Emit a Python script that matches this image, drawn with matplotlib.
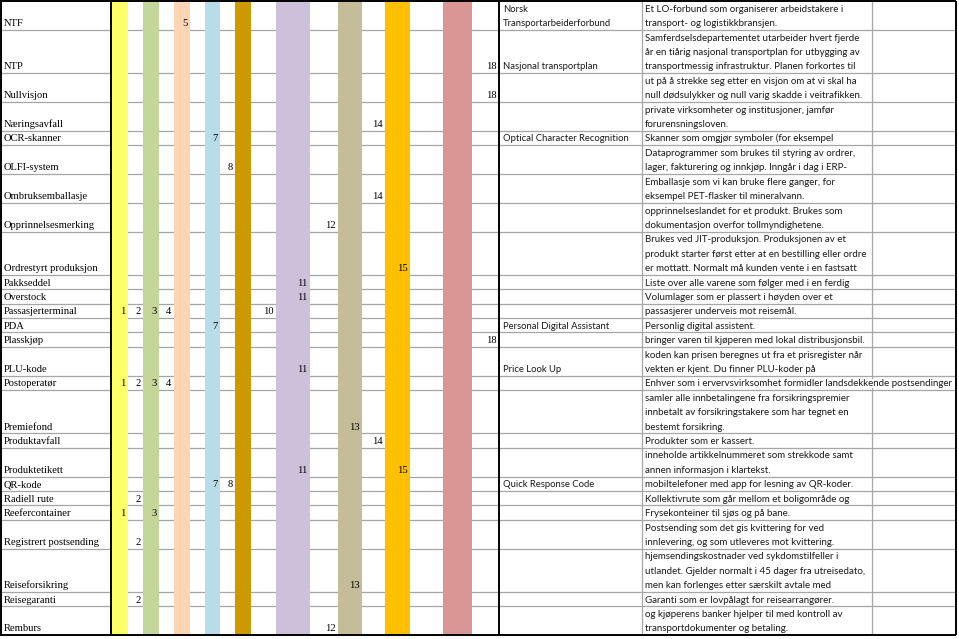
import matplotlib
matplotlib.use("Agg")
import matplotlib.pyplot as plt
import numpy as np

# ── Data ─────────────────────────────────────────────────────────────────────
TERMS = [
    "NTF", "NTP", "Nullvisjon", "Næringsavfall", "OCR-skanner", "OLFI-system",
    "Ombruksemballasje", "Opprinnelsesmerking", "Ordrestyrt produksjon",
    "Pakkseddel", "Overstock", "Passasjerterminal", "PDA", "Plasskjøp",
    "PLU-kode", "Postoperatør", "Premiefond", "Produktavfall", "Produktetikett",
    "QR-kode", "Radiell rute", "Reefercontainer", "Registrert postsending",
    "Reiseforsikring", "Reisegaranti", "Remburs",
]

# numbers shown in the numbered columns (column index == number)
CHAPTERS = [
    [5], [18], [18], [14], [7], [8], [14], [12], [15], [11], [11],
    [1, 2, 3, 4, 10], [7], [18], [11], [1, 2, 3, 4], [13], [14], [11, 15],
    [7, 8], [2], [1, 3], [2], [13], [2], [12],
]

EXPANSIONS = [
    "Norsk\nTransportarbeiderforbund", "Nasjonal transportplan", "", "",
    "Optical Character Recognition", "", "", "", "", "", "", "",
    "Personal Digital Assistant", "", "Price Look Up", "", "", "", "",
    "Quick Response Code", "", "", "", "", "", "",
]

DESCRIPTIONS = [
    "Et LO-forbund som organiserer arbeidstakere i\ntransport- og logistikkbransjen.",
    "Samferdselsdepartementet utarbeider hvert fjerde\når en tiårig nasjonal transportplan for utbygging av\ntransportmessig infrastruktur. Planen forkortes til",
    "ut på å strekke seg etter en visjon om at vi skal ha\nnull dødsulykker og null varig skadde i veitrafikken.",
    "private virksomheter og institusjoner, jamfør\nforurensningsloven.",
    "Skanner som omgjør symboler (for eksempel",
    "Dataprogrammer som brukes til styring av ordrer,\nlager, fakturering og innkjøp. Inngår i dag i ERP-",
    "Emballasje som vi kan bruke flere ganger, for\neksempel PET-flasker til mineralvann.",
    "opprinnelseslandet for et produkt. Brukes som\ndokumentasjon overfor tollmyndighetene.",
    "Brukes ved JIT-produksjon. Produksjonen av et\nprodukt starter først etter at en bestilling eller ordre\ner mottatt. Normalt må kunden vente i en fastsatt",
    "Liste over alle varene som følger med i en ferdig",
    "Volumlager som er plassert i høyden over et",
    "passasjerer underveis mot reisemål.",
    "Personlig digital assistent.",
    "bringer varen til kjøperen med lokal distribusjonsbil.",
    "koden kan prisen beregnes ut fra et prisregister når\nvekten er kjent. Du finner PLU-koder på",
    "Enhver som i ervervsvirksomhet formidler landsdekkende postsendinger",
    "samler alle innbetalingene fra forsikringspremier\ninnbetalt av forsikringstakere som har tegnet en\nbestemt forsikring.",
    "Produkter som er kassert.",
    "inneholde artikkelnummeret som strekkode samt\nannen informasjon i klartekst.",
    "mobiltelefoner med app for lesning av QR-koder.",
    "Kollektivrute som går mellom et boligområde og",
    "Frysekonteiner til sjøs og på bane.",
    "Postsending som det gis kvittering for ved\ninnlevering, og som utleveres mot kvittering.",
    "hjemsendingskostnader ved sykdomstilfeller i\nutlandet. Gjelder normalt i 45 dager fra utreisedato,\nmen kan forlenges etter særskilt avtale med",
    "Garanti som er lovpålagt for reisearrangører.",
    "og kjøperens banker hjelper til med kontroll av\ntransportdokumenter og betaling.",
]

# fill colours of the odd numbered columns 1, 3, ..., 17
STRIPE_COLORS = ["#FFFF66", "#C4D79B", "#FCD5B4", "#B7DEE8", "#CC9900",
                 "#CCC0DA", "#C4BD97", "#FFC000", "#DA9694"]

# ── Layout (pixel columns of the sheet) ──────────────────────────────────────
W, H = 959, 639
COL_EDGES = [111, 128, 143, 159, 174, 190, 205, 220, 235, 251, 276,
             310, 338, 362, 385, 410, 443, 472, 499]
X_EXP, X_DESC, X_EMPTY, X_RIGHT = 499, 642, 872, 956
TOP_PX, BOT_PX = 1, 635
GRID = "#A6A6A6"
SERIF = "Liberation Serif"
SANS = "Lato"
FS = 7.6
FS_DESC = 7.0
FS_EXP = 6.8

n_lines = [d.count("\n") + 1 for d in DESCRIPTIONS]
row_bottoms = np.cumsum(n_lines)
row_tops = row_bottoms - np.array(n_lines)
total = row_bottoms[-1]
line_px = (BOT_PX - TOP_PX) / total
base = 3.6 / line_px   # baseline offset above the cell bottom

fig = plt.figure(figsize=(W / 100, H / 100), dpi=100)
ax = fig.add_axes([0, 0, 1, 1])
ax.set_xlim(0, W)
ax.set_ylim((H - TOP_PX) / line_px, -TOP_PX / line_px)
ax.axis("off")

# row grid lines
ax.hlines(row_bottoms[:-1], 0, X_RIGHT, color=GRID, linewidth=0.9, zorder=1)
ax.vlines([X_DESC, X_EMPTY], 0, total, color=GRID, linewidth=0.9, zorder=1)

# coloured columns
left = np.array(COL_EDGES[:-1])
width = np.diff(COL_EDGES)
ax.bar(left[0::2], total, width=width[0::2], bottom=0, align="edge",
       color=STRIPE_COLORS, linewidth=0, zorder=2)

for i, term in enumerate(TERMS):
    yb = row_bottoms[i] - base
    ax.text(4, yb, term, family=SERIF, fontsize=FS, va="baseline", ha="left", zorder=4)
    for num in CHAPTERS[i]:
        ax.text(COL_EDGES[num] - 2.5, yb, str(num), family=SERIF, fontsize=FS,
                va="baseline", ha="right", zorder=4)
    exp_lines = EXPANSIONS[i].split("\n") if EXPANSIONS[i] else []
    for k, line in enumerate(reversed(exp_lines)):
        ax.text(X_EXP + 4, row_bottoms[i] - k - base, line, family=SANS,
                fontsize=FS_EXP, va="baseline", ha="left", color="#1a1a1a", zorder=4)
    for k, line in enumerate(DESCRIPTIONS[i].split("\n")):
        ax.text(X_DESC + 3, row_tops[i] + k + 1 - base, line, family=SANS,
                fontsize=FS_DESC, va="baseline", ha="left", color="#1a1a1a", zorder=4,
                bbox=dict(facecolor="white", edgecolor="none", pad=0))

# black outer borders
ax.vlines([1, COL_EDGES[0], X_EXP, X_RIGHT], 0, total, color="black", linewidth=1.4, zorder=5)
ax.hlines([0, total], 0, X_RIGHT, color="black", linewidth=1.4, zorder=5)

fig.savefig("out.png", dpi=100)
